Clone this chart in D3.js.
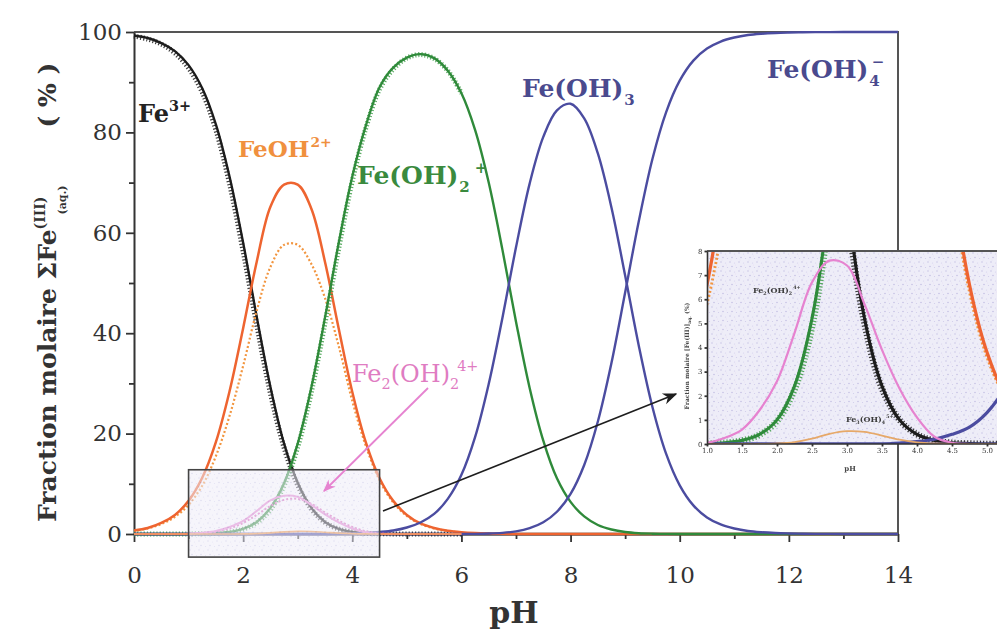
<!DOCTYPE html>
<html>
<head>
<meta charset="utf-8">
<script src="https://cdn.jsdelivr.net/npm/d3@7"></script>
<style>
  body { margin: 0; background: #fff; }
  svg { display: block; }
</style>
</head>
<body>
<svg id="chart" width="997" height="637"></svg>
<script>
// pH grid for the mononuclear Fe(III) species (0 → 14, step 0.25)
const phGrid = [0,0.25,0.5,0.75,1,1.25,1.5,1.75,2,2.25,2.5,2.75,3,3.25,3.5,3.75,4,4.25,4.5,4.75,
  5,5.25,5.5,5.75,6,6.25,6.5,6.75,7,7.25,7.5,7.75,8,8.25,8.5,8.75,9,9.25,9.5,9.75,
  10,10.25,10.5,10.75,11,11.25,11.5,11.75,12,12.25,12.5,12.75,13,13.25,13.5,13.75,14];

// molar fraction (%) of each species
const fe3 = [99.3,98.8,97.8,96.2,93.4,88.8,81.6,71.2,58.0,43.2,29.3,18.0,10.2,5.2,2.4,1.0,0.4,0.15,0.05,0.02,
  0,0,0,0,0,0,0,0,0,0,0,0,0,0,0,0,0,0,0,0,0,0,0,0,0,0,0,0,0,0,0,0,0,0,0,0,0];
const feOH = [0.7,1.2,2.2,3.8,6.6,11.2,18.3,28.4,41.0,54.3,65.2,69.6,69.6,64.8,54.2,41.0,28.3,18.2,11.1,6.6,
  3.8,2.1,1.2,0.65,0.35,0.18,0.09,0.04,0,0,0,0,0,0,0,0,0,0,0,0,0,0,0,0,0,0,0,0,0,0,0,0,0,0,0,0,0];
const feOH2 = [0,0,0,0,0.02,0.05,0.15,0.4,1.0,2.4,5.2,10.1,18.0,29.2,43.1,57.9,71.2,81.4,89.0,92.9,
  94.9,95.6,94.8,92.3,87.8,80.5,70.0,56.7,42.3,29.1,18.6,11.1,6.4,3.5,1.8,0.9,0.4,0.16,0.06,0.02,
  0,0,0,0,0,0,0,0,0,0,0,0,0,0,0,0,0];
const feOH3 = [0,0,0,0,0,0,0,0,0,0,0,0,0,0,0,0.04,0.1,0.2,0.4,0.7,
  1.3,2.3,4.0,7.0,11.8,19.3,29.9,43.0,57.1,69.8,79.1,84.4,85.7,82.8,75.8,65.0,51.5,37.5,25.3,16.0,
  9.7,5.7,3.3,1.9,1.1,0.6,0.34,0.19,0.11,0.06,0.03,0.02,0.01,0,0,0,0];
const feOH4 = [0,0,0,0,0,0,0,0,0,0,0,0,0,0,0,0,0,0,0,0,0,0,0,0,
  0.01,0.03,0.09,0.23,0.53,1.16,2.33,4.43,8.0,13.75,22.4,34.1,48.1,62.3,74.7,84.0,
  90.3,94.3,96.7,98.1,98.9,99.4,99.66,99.81,99.89,99.94,99.97,99.98,99.99,100,100,100,100];

// acidic range, system including the polynuclear species (0 → 6, step 0.25)
const phLow = [0,0.25,0.5,0.75,1,1.25,1.5,1.75,2,2.25,2.5,2.75,3,3.25,3.5,3.75,4,4.25,4.5,4.75,5,5.25,5.5,5.75,6];
const fe3Poly = [99.2,98.6,97.6,95.8,92.8,88.0,80.5,69.8,56.3,41.6,28.0,17.2,9.7,5.0,2.3,1.0,0.4,0.14,0.05,0.02,0,0,0,0,0];
const feOHPoly = [0.6,1.1,2.0,3.4,5.8,9.6,15.5,23.5,33.5,44.5,53.2,57.6,57.6,53.8,47.0,37.5,26.5,17.5,10.7,6.3,3.6,2.0,1.1,0.6,0.3];
const feOH2Poly = [0,0,0,0,0.02,0.05,0.14,0.38,0.95,2.25,4.85,9.6,17.3,28.3,42.0,56.8,70.3,80.9,88.6,92.6,94.8,95.5,94.7,92.3,87.8];
const fe2OH2 = [0,0,0,0,0.05,0.25,0.6,1.4,2.6,4.6,6.7,7.6,7.4,5.8,3.9,2.3,1.1,0.3,0.05,0,0,0,0,0,0];
const fe2OH2Poly = [0,0,0,0,0.03,0.15,0.45,1.1,2.2,3.8,5.6,6.8,7.0,6.0,4.3,2.7,1.4,0.55,0.15,0.03,0,0,0,0,0];
const fe3OH4 = [0,0,0,0,0,0,0,0,0.02,0.08,0.22,0.42,0.53,0.5,0.35,0.18,0.07,0.02,0,0,0,0,0,0,0];

// ticks
const xMajor = [0,2,4,6,8,10,12,14];
const xMinor = [1,3,5,7,9,11,13];
const yMajor = [0,20,40,60,80,100];
const yMinor = [10,30,50,70,90];
const insetXTicks = [1,1.5,2,2.5,3,3.5,4,4.5,5];
const insetYTicks = [0,1,2,3,4,5,6,7,8];
const zoomBox = {ph: [1, 4.5], frac: [-4.6, 12.8]};

const serif = "'DejaVu Serif', 'Liberation Serif', serif";
const col = {
  black: "#1c1c1c", orange: "#ee6430", orangeDot: "#f2953f", green: "#2f8a3a", greenDot: "#3c9c47",
  purple: "#4b4ca0", pink: "#e683d0", pinkDot: "#d765b9", labOrange: "#f0903e", labGreen: "#3a8a3e",
  labPurple: "#4a4a8e", labPink: "#df7cc2"
};

const svg = d3.select("#chart");
const defs = svg.append("defs");

// speckled lavender fill of the zoom area
const pat = defs.append("pattern").attr("id", "speckle").attr("width", 9).attr("height", 9)
  .attr("patternUnits", "userSpaceOnUse");
pat.append("rect").attr("width", 9).attr("height", 9).attr("fill", "#eeedf8");
[[1,1,0.7,"#c4c0e3"],[5.5,2,0.55,"#d6d1ee"],[3,5.5,0.7,"#bdb8df"],[7.5,6.5,0.55,"#d0cbea"],[2,8,0.45,"#ddd7f0"],[6.5,4,0.45,"#e8d8ef"]]
  .forEach(([cx, cy, r, c]) => pat.append("circle").attr("cx", cx).attr("cy", cy).attr("r", r).attr("fill", c));

function arrowMarker(id, color, size) {
  defs.append("marker").attr("id", id).attr("viewBox", "0 0 10 10").attr("refX", 9).attr("refY", 5)
    .attr("markerWidth", size).attr("markerHeight", size).attr("orient", "auto")
    .append("path").attr("d", "M0,1 L10,5 L0,9 L3,5 Z").attr("fill", color);
}
arrowMarker("arrowBlack", "#1e1e1e", 9);
arrowMarker("arrowPink", col.pink, 7);

defs.append("filter").attr("id", "soft").append("feGaussianBlur").attr("stdDeviation", 0.45);

// ---------------- main chart ----------------
const x = d3.scaleLinear().domain([0, 14]).range([134, 898]);
const y = d3.scaleLinear().domain([0, 100]).range([534, 32]);

const lineOf = (xs, sx, sy) => d3.line()
  .x((d, i) => sx(xs[i])).y(d => sy(d))
  .curve(d3.curveCatmullRom.alpha(0.5));

// frame (top and right)
svg.append("path").attr("d", `M${x(0)},${y(100)}H${x(14)}V${y(0)}`)
  .attr("fill", "none").attr("stroke", "#555").attr("stroke-width", 2);

function styleAxis(g, size) {
  g.select(".domain").attr("stroke", "#333").attr("stroke-width", 2);
  g.selectAll(".tick line").attr("stroke", "#333").attr("stroke-width", 1.8);
  g.selectAll(".tick text").attr("font-family", serif).attr("font-size", size).attr("fill", "#333");
}

const gx = svg.append("g").attr("transform", `translate(0,${y(0)})`)
  .call(d3.axisBottom(x).tickValues(xMajor).tickSize(8).tickSizeOuter(0).tickPadding(25).tickFormat(d3.format("d")));
styleAxis(gx, 23);
const gxm = svg.append("g").attr("transform", `translate(0,${y(0)})`)
  .call(d3.axisBottom(x).tickValues(xMinor).tickSize(5).tickSizeOuter(0).tickFormat(""));
styleAxis(gxm, 0); gxm.select(".domain").remove();

const gy = svg.append("g").attr("transform", `translate(${x(0)},0)`)
  .call(d3.axisLeft(y).tickValues(yMajor).tickSize(8).tickSizeOuter(0).tickPadding(4).tickFormat(d3.format("d")));
styleAxis(gy, 23);
const gym = svg.append("g").attr("transform", `translate(${x(0)},0)`)
  .call(d3.axisLeft(y).tickValues(yMinor).tickSize(5).tickSizeOuter(0).tickFormat(""));
styleAxis(gym, 0); gym.select(".domain").remove();

// curves
const curves = svg.append("g").attr("fill", "none").attr("stroke-linejoin", "round");
function drawSeries(g, xs, ys, sx, sy, color, width, dash, opacity) {
  g.append("path").datum(ys).attr("d", lineOf(xs, sx, sy))
    .attr("stroke", color).attr("stroke-width", width)
    .attr("stroke-dasharray", dash || null).attr("opacity", opacity || 1);
}
function drawAll(g, sx, sy, k) {
  drawSeries(g, phLow, fe3Poly, sx, sy, col.black, 5 * k, "1.2 2", 0.85);
  drawSeries(g, phGrid, fe3, sx, sy, col.black, 2.4 * k);
  drawSeries(g, phLow, feOHPoly, sx, sy, col.orangeDot, 2.2 * k, "2 2.2");
  drawSeries(g, phGrid, feOH, sx, sy, col.orange, 2.5 * k);
  drawSeries(g, phLow, feOH2Poly, sx, sy, col.greenDot, 5 * k, "1.2 2", 0.85);
  drawSeries(g, phGrid, feOH2, sx, sy, col.green, 2.4 * k);
  drawSeries(g, phGrid, feOH3, sx, sy, col.purple, 2.4 * k);
  drawSeries(g, phGrid, feOH4, sx, sy, col.purple, 2.4 * k);
}
drawAll(curves, x, y, 1);
drawSeries(curves, phLow, fe2OH2Poly, x, y, col.pinkDot, 2, "2 2");
drawSeries(curves, phLow, fe2OH2, x, y, col.pink, 2);
drawSeries(curves, phLow, fe3OH4, x, y, col.orangeDot, 1.6);

// zoom rectangle over the acidic region
svg.append("rect")
  .attr("x", x(zoomBox.ph[0])).attr("y", y(zoomBox.frac[1]))
  .attr("width", x(zoomBox.ph[1]) - x(zoomBox.ph[0]))
  .attr("height", y(zoomBox.frac[0]) - y(zoomBox.frac[1]))
  .attr("fill", "url(#speckle)").attr("fill-opacity", 0.55)
  .attr("stroke", "#444").attr("stroke-width", 1.6);

// chemical labels
function chem(g, px, py, parts, o) {
  const t = g.append("text").attr("x", px).attr("y", py)
    .attr("font-family", serif).attr("font-weight", o.weight || "bold")
    .attr("font-size", o.size).attr("fill", o.color);
  let shift = 0;
  parts.forEach(p => {
    const target = p.k === "sub" ? o.size * 0.3 : p.k === "sup" ? -o.size * 0.45 : 0;
    const ts = t.append("tspan").text(p.t).attr("dy", target - shift);
    if (p.dx) ts.attr("dx", p.dx);
    if (p.k) ts.attr("font-size", o.size * 0.6);
    shift = target;
  });
  return t;
}
const labels = svg.append("g");
chem(labels, 138, 122, [{t: "Fe"}, {t: "3+", k: "sup"}], {size: 24, color: "#222"});
chem(labels, 238, 157, [{t: "FeOH"}, {t: "2+", k: "sup", dx: 1}], {size: 23, color: col.labOrange});
chem(labels, 357, 184, [{t: "Fe(OH)"}, {t: "2", k: "sub", dx: 1}, {t: "+", k: "sup", dx: 5}], {size: 25, color: col.labGreen});
chem(labels, 522, 97, [{t: "Fe(OH)"}, {t: "3", k: "sub", dx: 1}], {size: 25, color: col.labPurple});
chem(labels, 767, 78, [{t: "Fe(OH)"}, {t: "4", k: "sub", dx: 1}, {t: "\u2212", k: "sup", dx: -8}], {size: 25, color: col.labPurple});
chem(labels, 352, 382, [{t: "Fe"}, {t: "2", k: "sub"}, {t: "(OH)"}, {t: "2", k: "sub"}, {t: "4+", k: "sup", dx: -2}],
  {size: 24, color: col.labPink, weight: "normal"});

// pointer from the dimer label and arrow towards the inset
svg.append("line").attr("x1", 428).attr("y1", 388).attr("x2", 324).attr("y2", 491)
  .attr("stroke", col.pink).attr("stroke-width", 1.8).attr("marker-end", "url(#arrowPink)");
svg.append("line").attr("x1", 383).attr("y1", 511).attr("x2", 676).attr("y2", 394)
  .attr("stroke", "#1e1e1e").attr("stroke-width", 1.6).attr("marker-end", "url(#arrowBlack)");

// axis titles
svg.append("text").attr("x", 514).attr("y", 623).attr("text-anchor", "middle")
  .attr("font-family", serif).attr("font-weight", "bold").attr("font-size", 30).attr("fill", "#333")
  .text("pH");
const yt = svg.append("text").attr("transform", "translate(56,522) rotate(-90)")
  .attr("font-family", serif).attr("font-weight", "bold").attr("font-size", 25).attr("fill", "#333");
yt.append("tspan").text("Fraction molaire \u03A3Fe");
yt.append("tspan").text("(III)").attr("font-size", 14).attr("dy", -11);
yt.append("tspan").text("(aq.)").attr("font-size", 11).attr("dy", 21).attr("dx", -18);
yt.append("tspan").text("( % )").attr("dy", -10).attr("dx", 58);

// ---------------- inset: zoom on the polynuclear species ----------------
const ix = d3.scaleLinear().domain([1, 5]).range([707, 987]);
const iy = d3.scaleLinear().domain([0, 8]).range([444, 251]);
const inset = svg.append("g").attr("filter", "url(#soft)");
defs.append("clipPath").attr("id", "insetClip").append("rect")
  .attr("x", ix(1)).attr("y", iy(8)).attr("width", 997 - ix(1)).attr("height", iy(0) - iy(8));

inset.append("rect").attr("x", ix(1)).attr("y", iy(8)).attr("width", 997 - ix(1)).attr("height", iy(0) - iy(8))
  .attr("fill", "url(#speckle)");

const ic = inset.append("g").attr("clip-path", "url(#insetClip)").attr("fill", "none");
drawAll(ic, ix, iy, 1.3);
drawSeries(ic, phLow, fe2OH2, ix, iy, col.pink, 2.2);
drawSeries(ic, phLow, fe3OH4, ix, iy, "#e6a868", 1.8);

inset.append("path").attr("d", `M${ix(1)},${iy(8)}H997`).attr("stroke", "#555").attr("stroke-width", 2.2);
const igx = inset.append("g").attr("transform", `translate(0,${iy(0)})`)
  .call(d3.axisBottom(ix).tickValues(insetXTicks).tickSize(2.5).tickSizeOuter(0).tickPadding(1.5).tickFormat(d3.format(".1f")));
styleAxis(igx, 7);
igx.select(".domain").attr("d", `M${ix(1)},0H997`).attr("stroke-width", 1.6);
const igy = inset.append("g").attr("transform", `translate(${ix(1)},0)`)
  .call(d3.axisLeft(iy).tickValues(insetYTicks).tickSize(2.5).tickSizeOuter(0).tickPadding(2).tickFormat(d3.format("d")));
styleAxis(igy, 7);
igy.select(".domain").attr("stroke-width", 1.6);

inset.append("text").attr("x", 850).attr("y", 471).attr("text-anchor", "middle")
  .attr("font-family", serif).attr("font-weight", "bold").attr("font-size", 7).attr("fill", "#444").text("pH");
const iyt = inset.append("text").attr("transform", "translate(689,356) rotate(-90)").attr("text-anchor", "middle")
  .attr("font-family", serif).attr("font-weight", "bold").attr("font-size", 6).attr("fill", "#444");
iyt.append("tspan").text("Fraction molaire [Fe(III)]");
iyt.append("tspan").text("aq.").attr("font-size", 4.5).attr("dy", 1.5);
iyt.append("tspan").text(" (%)").attr("dy", -1.5);

chem(inset, 753, 293, [{t: "Fe"}, {t: "2", k: "sub"}, {t: "(OH)"}, {t: "2", k: "sub"}, {t: "4+", k: "sup", dx: 1}],
  {size: 8, color: "#3a3a3a"});
chem(inset, 846, 422, [{t: "Fe"}, {t: "3", k: "sub"}, {t: "(OH)"}, {t: "4", k: "sub"}, {t: "5+", k: "sup", dx: 1}],
  {size: 8, color: "#3a3a3a"});
</script>
</body>
</html>
